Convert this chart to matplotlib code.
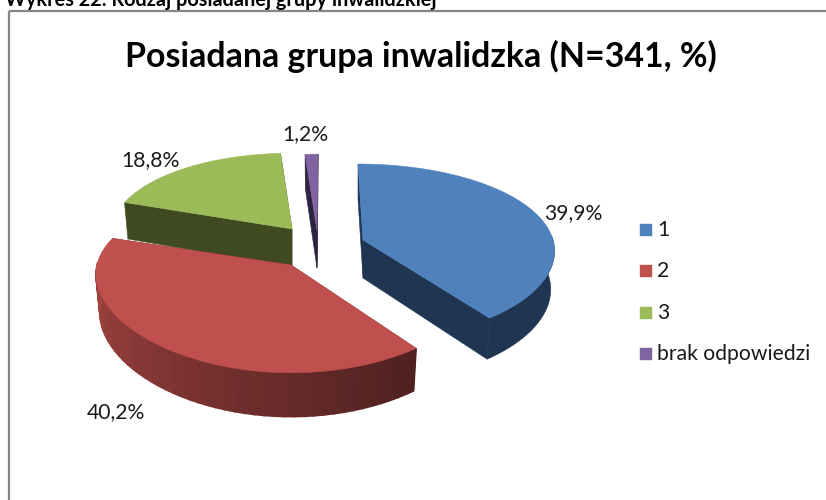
import numpy as np
import matplotlib
matplotlib.use("Agg")
import matplotlib.pyplot as plt
from matplotlib.patches import Rectangle

categories = ["1", "2", "3", "brak odpowiedzi"]
values = [39.9, 40.2, 18.8, 1.2]
labels = ["39,9%", "40,2%", "18,8%", "1,2%"]
colors = ["#4f81bd", "#c0504d", "#9bbb59", "#8064a2"]
walls = ["#1f3552", "#4f1c1a", "#3f4a20", "#2e2340"]
title = "Posiadana grupa inwalidzka (N=341, %)"
heading = "Wykres 22. Rodzaj posiadanej grupy inwalidzkiej"

plt.rcParams["font.family"] = ["Lato", "DejaVu Sans"]
W, H = 826, 500
fig = plt.figure(figsize=(W / 100, H / 100), dpi=100, facecolor="white")
ax = fig.add_axes([0, 0, 1, 1])
ax.set_xlim(0, W)
ax.set_ylim(H, 0)
ax.axis("off")

DEPTH, KX = 38, 0.10
centers = [(363, 240), (291, 265), (292, 229), (317, 230)]
rx_list = [190, 194, 182, 190]
ry_list = [86.3, 89, 89, 89]
k_list = [0.136, 0.174, 0.174, 0.174]
shear_list = [5, 0, 0, 0]


def project(i, theta, r=1.0, drop=0.0):
    """theta clockwise from the top of the pie; perspective enlarges the front."""
    cx, cy = centers[i]
    X, Y = r * np.sin(theta), r * np.cos(theta)
    sy = 1 / (1 + k_list[i] * Y)
    sx = 1 / (1 + KX * Y)
    f = 1 - 0.02 * (drop > 0)
    return (cx + rx_list[i] * X * sx * f - shear_list[i] * Y,
            cy - ry_list[i] * Y * sy * f + drop * sy)


def poly(pts, color, z, lw=0.4):
    xs, ys = zip(*pts)
    ax.fill(xs, ys, facecolor=color, edgecolor=color, linewidth=lw, zorder=z)


def mix(c, t):
    rgb = np.array(matplotlib.colors.to_rgb(c))
    return tuple(np.clip(rgb * t, 0, 1))


edges = np.radians(np.cumsum([0] + values) * 3.6)
for z, i in enumerate([3, 2, 1, 0]):
    a0, a1 = edges[i], edges[i + 1]
    th = np.linspace(a0, a1, 160)
    base = 10 * z
    # cut faces
    for a in (a0, a1):
        poly([project(i, a, 0), project(i, a), project(i, a, 1, DEPTH), project(i, a, 0, DEPTH)],
             walls[i], base + 1)
    # outer wall
    vis = th[np.cos(th) <= 0.05]
    if len(vis) > 1:
        if i == 1:
            # red wall: shaded from the dark right end to the lighter left
            vis = vis[::3]
            for t0, t1 in zip(vis[:-1], vis[1:]):
                frac = (t0 - a0) / (np.pi * 0.72)
                col = mix(colors[i], 0.41 + 0.45 * min(frac, 1))
                poly([project(i, t0), project(i, t1), project(i, t1, 1, DEPTH), project(i, t0, 1, DEPTH)],
                     col, base + 2, lw=1.2)
        else:
            pts = [project(i, t) for t in vis] + [project(i, t, 1, DEPTH) for t in vis[::-1]]
            poly(pts, walls[i], base + 2)
    # top face
    poly([project(i, 0, 0)] + [project(i, t) for t in th], colors[i], base + 3)

# frame (right and bottom sides fall outside the picture) and headings
ax.add_patch(Rectangle((9, 11), 830, 500, facecolor="none", edgecolor="#868686", linewidth=1.6, zorder=0))
ax.text(5, 0, heading, fontsize=14.3, fontweight="bold", color="black", ha="left", va="center", zorder=50)
ax.text(421, 56, title, fontsize=24.4, fontweight="bold", color="black", ha="center", va="center", zorder=50)

# data labels
label_pos = [(573, 213), (116, 412), (150, 160), (305, 134)]
for s, (x, y) in zip(labels, label_pos):
    ax.text(x, y, s, fontsize=15.2, color="#1a1a1a", ha="center", va="center", zorder=50)

# legend
legend_y = [230, 271, 313, 354]
for name, col, y in zip(categories, colors, legend_y):
    ax.add_patch(Rectangle((640, y - 6), 12, 12, facecolor=col, edgecolor=col, linewidth=0.3, zorder=50))
    ax.text(657, y, name, fontsize=15.2, color="#1a1a1a", ha="left", va="center", zorder=50)

fig.savefig("out.png", dpi=100, facecolor="white")
